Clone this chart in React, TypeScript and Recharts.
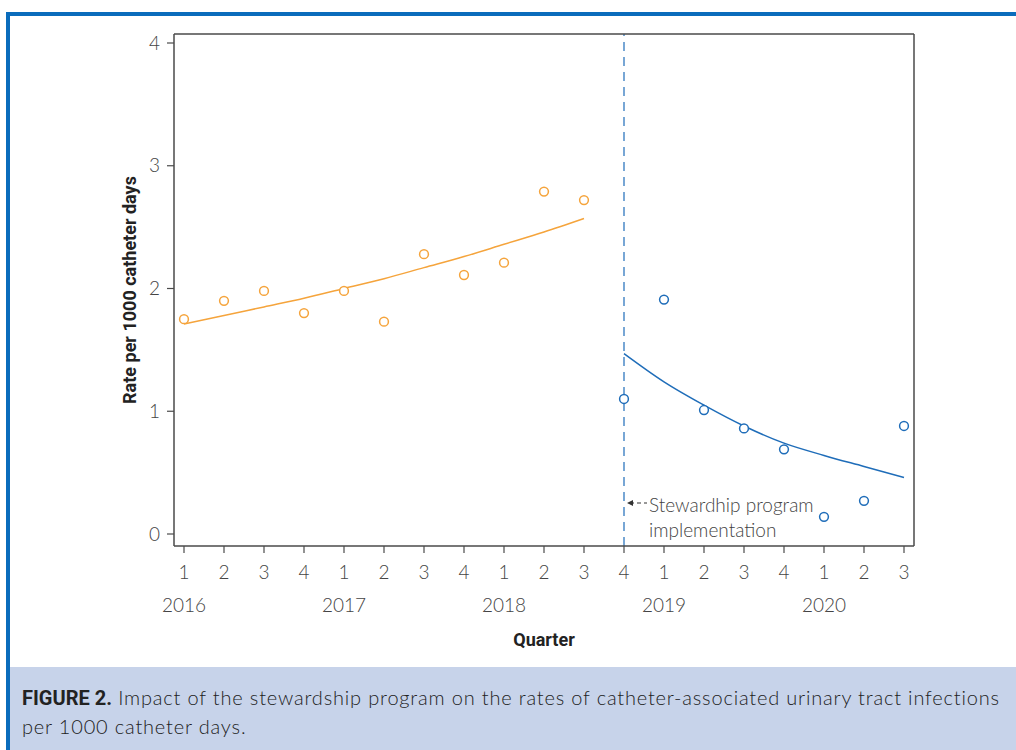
import React from "react";
import {
    ComposedChart,
    Line,
    Scatter,
    XAxis,
    YAxis,
    ReferenceLine,
} from "recharts";

// quarter index 0..18 (2016 Q1 .. 2020 Q3)
const quarterIdx = [0, 1, 2, 3, 4, 5, 6, 7, 8, 9, 10, 11, 12, 13, 14, 15, 16, 17, 18];
const quarterLabels = ["1", "2", "3", "4", "1", "2", "3", "4", "1", "2", "3", "4", "1", "2", "3", "4", "1", "2", "3"];
const yearLabels = ["2016", "", "", "", "2017", "", "", "", "2018", "", "", "", "2019", "", "", "", "2020", "", ""];

// observed rates
const preRates = [1.75, 1.9, 1.98, 1.8, 1.98, 1.73, 2.28, 2.11, 2.21, 2.79, 2.72];
const postRates = [1.1, 1.91, 1.01, 0.86, 0.69, 0.14, 0.27, 0.88];

// fitted trend
const preFit = [1.71, 1.78, 1.85, 1.92, 2.0, 2.08, 2.17, 2.26, 2.36, 2.46, 2.57];
const postFit = [1.47, 1.24, 1.05, 0.88, 0.74, 0.64, 0.55, 0.46];

const yTicks = [0, 1, 2, 3, 4];
const interventionIdx = 11;

const ORANGE = "#F5A43C";
const BLUE = "#1F6DB9";
const AXIS = "#4a4a4a";
const TEXT = "#444";
const LIGHT_FONT = "Lato, 'Open Sans', sans-serif";
const BOLD_FONT = "Roboto, 'Noto Sans', sans-serif";

const data = quarterIdx.map((q, i) => ({
    q,
    preRate: i < preRates.length ? preRates[i] : null,
    postRate: i >= interventionIdx ? postRates[i - interventionIdx] : null,
    preFit: i < preFit.length ? preFit[i] : null,
    postFit: i >= interventionIdx ? postFit[i - interventionIdx] : null,
}));

const preScatter = data.filter((d) => d.preRate !== null).map((d) => ({q: d.q, v: d.preRate}));
const postScatter = data.filter((d) => d.postRate !== null).map((d) => ({q: d.q, v: d.postRate}));

const QuarterTick = (props: any) => {
    const {x, y, payload} = props;
    const i = payload.value;
    return (
        <g>
            <text x={x} y={y + 26} textAnchor="middle" fontSize={19} fill={TEXT}
                  fontFamily={LIGHT_FONT} fontWeight={300}>
                {quarterLabels[i]}
            </text>
            {yearLabels[i] && (
                <text x={x} y={y + 59} textAnchor="middle" fontSize={19} fill={TEXT}
                      fontFamily={LIGHT_FONT} fontWeight={300}>
                    {yearLabels[i]}
                </text>
            )}
        </g>
    );
};

const Circle = (color: string) => (props: any) => {
    const {cx, cy} = props;
    return <circle cx={cx} cy={cy} r={4.4} fill="#fff" stroke={color} strokeWidth={1.5}/>;
};

const ImplLabel = (props: any) => {
    const {viewBox} = props;
    const x = viewBox.x;
    const bottom = viewBox.y + viewBox.height;
    const ay = bottom - 43;
    return (
        <g>
            <line x1={x + 6} y1={ay} x2={x + 23} y2={ay} stroke="#333" strokeWidth={1.2}
                  strokeDasharray="4 3"/>
            <path d={`M${x + 3},${ay} l6,-3 l0,6 z`} fill="#333"/>
            <text x={x + 25} y={bottom - 34} fontSize={19} fill={TEXT}
                  fontFamily={LIGHT_FONT} fontWeight={300}>
                Stewardhip program
            </text>
            <text x={x + 25} y={bottom - 9} fontSize={19} fill={TEXT}
                  fontFamily={LIGHT_FONT} fontWeight={300}>
                implementation
            </text>
        </g>
    );
};

export default function App() {
    return (
        <div style={{position: "absolute", left: 0, top: 0, width: 1016, height: 750, background: "#fff", overflow: "hidden"}}>
            {/* frame */}
            <div style={{
                position: "absolute", left: 6, top: 12, width: 1100, height: 800,
                borderTop: "4px solid #0A6CBC", borderLeft: "4px solid #0A6CBC",
            }}/>

            <div style={{position: "absolute", left: 0, top: 0}}>
                <ComposedChart
                    width={1016}
                    height={660}
                    data={data}
                    margin={{top: 33, right: 101, left: 114, bottom: 14}}
                >
                    <XAxis
                        dataKey="q"
                        type="number"
                        domain={[0, 18]}
                        ticks={quarterIdx}
                        padding={{left: 10, right: 10}}
                        height={100}
                        tick={<QuarterTick/>}
                        tickSize={7}
                        tickMargin={0}
                        interval={0}
                        axisLine={{stroke: AXIS, strokeWidth: 1.5}}
                        tickLine={{stroke: AXIS, strokeWidth: 1.2}}
                        label={{
                            content: (p: any) => (
                                <text x={p.viewBox.x + p.viewBox.width / 2} y={p.viewBox.y + 100}
                                      textAnchor="middle" fontSize={18} fontWeight={700}
                                      fill="#222" fontFamily={BOLD_FONT}>
                                    Quarter
                                </text>
                            ),
                        }}
                    />
                    <XAxis xAxisId="top" orientation="top" dataKey="q" type="number" domain={[0, 18]}
                           height={1} tick={false} tickLine={false}
                           axisLine={{stroke: AXIS, strokeWidth: 1.5}}/>
                    <YAxis
                        type="number"
                        domain={[0, 4]}
                        ticks={yTicks}
                        padding={{top: 9, bottom: 12}}
                        width={60}
                        tickSize={7}
                        tickMargin={7}
                        tick={{fontSize: 19, fill: TEXT, fontFamily: LIGHT_FONT, fontWeight: 300}}
                        axisLine={{stroke: AXIS, strokeWidth: 1.5}}
                        tickLine={{stroke: AXIS, strokeWidth: 1.2}}
                        label={{
                            content: (p: any) => {
                                const cx = p.viewBox.x + 22;
                                const cy = p.viewBox.y + p.viewBox.height / 2;
                                return (
                                    <text x={cx} y={cy} transform={`rotate(-90, ${cx}, ${cy})`}
                                          textAnchor="middle" fontSize={18} fontWeight={700}
                                          fill="#222" fontFamily={BOLD_FONT}>
                                        Rate per 1000 catheter days
                                    </text>
                                );
                            },
                        }}
                    />
                    <YAxis yAxisId="right" orientation="right" domain={[0, 4]} width={1}
                           tick={false} tickLine={false}
                           axisLine={{stroke: AXIS, strokeWidth: 1.5}}/>

                    <ReferenceLine
                        x={interventionIdx}
                        stroke={BLUE}
                        strokeWidth={1.2}
                        strokeDasharray="9 6"
                        label={<ImplLabel/>}
                    />

                    <Line dataKey="preFit" stroke={ORANGE} strokeWidth={1.5} dot={false}
                          type="monotone" isAnimationActive={false} connectNulls={false}/>
                    <Line dataKey="postFit" stroke={BLUE} strokeWidth={1.5} dot={false}
                          type="monotone" isAnimationActive={false} connectNulls={false}/>

                    <Scatter data={preScatter} dataKey="v" shape={Circle(ORANGE)}
                             isAnimationActive={false}/>
                    <Scatter data={postScatter} dataKey="v" shape={Circle(BLUE)}
                             isAnimationActive={false}/>
                </ComposedChart>
            </div>

            {/* caption */}
            <div style={{
                position: "absolute", left: 10, top: 667, width: 1006, height: 83,
                background: "#C7D3EA", boxSizing: "border-box", padding: "16px 0 0 12px",
                fontFamily: LIGHT_FONT, fontWeight: 300, fontSize: 20, letterSpacing: 0.82,
                lineHeight: "28px", color: "#222", whiteSpace: "nowrap",
            }}>
                <span style={{fontFamily: BOLD_FONT, fontWeight: 700, letterSpacing: 0}}>FIGURE 2.</span>
                {" "}Impact of the stewardship program on the rates of catheter-associated urinary tract infections
                <br/>
                per 1000 catheter days.
            </div>
        </div>
    );
}
